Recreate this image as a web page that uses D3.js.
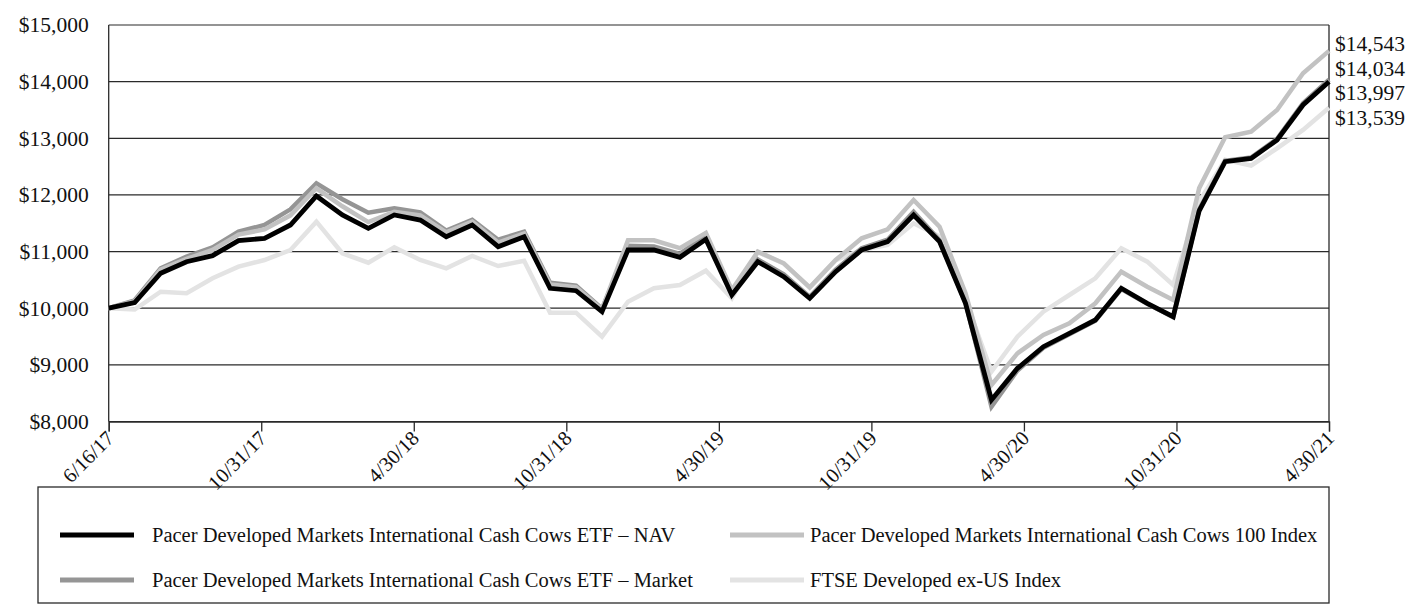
<!DOCTYPE html>
<html>
<head>
<meta charset="utf-8">
<script src="https://cdn.jsdelivr.net/npm/d3@7"></script>
<style>
  html, body { margin: 0; padding: 0; background: #fff; }
  svg { display: block; }
  text { font-family: "Liberation Serif", "DejaVu Serif", serif; fill: #111; }
</style>
</head>
<body>
<svg id="chart" width="1413" height="612"></svg>
<script>
const dates = [
  "6/16/17","6/30/17","7/31/17","8/31/17","9/30/17","10/31/17","11/30/17","12/31/17",
  "1/31/18","2/28/18","3/31/18","4/30/18","5/31/18","6/30/18","7/31/18","8/31/18","9/30/18","10/31/18","11/30/18","12/31/18",
  "1/31/19","2/28/19","3/31/19","4/30/19","5/31/19","6/30/19","7/31/19","8/31/19","9/30/19","10/31/19","11/30/19","12/31/19",
  "1/31/20","2/29/20","3/31/20","4/30/20","5/31/20","6/30/20","7/31/20","8/31/20","9/30/20","10/31/20","11/30/20","12/31/20",
  "1/31/21","2/28/21","3/31/21","4/30/21"
];
const tickLabels = ["6/16/17","10/31/17","4/30/18","10/31/18","4/30/19","10/31/19","4/30/20","10/31/20","4/30/21"];
const yTicks = [8000, 9000, 10000, 11000, 12000, 13000, 14000, 15000];

const navValues = [
  10000,10100,10617,10821,10928,11192,11234,11469,11981,11646,11411,11646,
  11557,11263,11469,11086,11263,10352,10309,9938,11028,11028,10899,11217,
  10233,10822,10557,10175,10645,11028,11175,11646,11175,10087,8380,8939,
  9321,9557,9792,10352,10087,9851,11720,12587,12646,12970,13588,13997
];
const marketValues = [
  10000,10140,10705,10910,11075,11351,11469,11746,12205,11923,11687,11764,
  11690,11370,11560,11210,11350,10450,10400,9990,11100,11090,10960,11290,
  10270,10860,10600,10200,10680,11060,11210,11700,11200,10100,8262,8900,
  9300,9540,9780,10340,10080,9840,11740,12600,12660,12990,13620,14034
];
const indexValues = [
  10000,10120,10680,10870,11030,11300,11390,11640,12117,11800,11520,11700,
  11640,11340,11530,11160,11320,10420,10370,9980,11200,11200,11060,11330,
  10322,10998,10793,10369,10851,11234,11393,11911,11440,10263,8644,9204,
  9527,9733,10087,10645,10380,10145,12120,13017,13117,13500,14148,14543
];
const ftseValues = [
  10000,9976,10292,10263,10528,10733,10851,11028,11528,10970,10804,11075,
  10851,10705,10922,10745,10839,9921,9921,9497,10115,10352,10410,10663,
  10175,10990,10790,10360,10850,11028,11116,11499,11270,10150,8880,9497,
  9938,10233,10528,11058,10822,10410,11880,12620,12517,12823,13147,13539
];
const seriesNames = [
  "Pacer Developed Markets International Cash Cows ETF \u2013 NAV",
  "Pacer Developed Markets International Cash Cows ETF \u2013 Market",
  "Pacer Developed Markets International Cash Cows 100 Index",
  "FTSE Developed ex-US Index"
];
const seriesColors = ["#000000", "#959595", "#c2c2c2", "#e3e3e3"];
const endLabels = ["$14,543", "$14,034", "$13,997", "$13,539"];

const series = [
  { name: seriesNames[0], values: navValues, color: seriesColors[0] },
  { name: seriesNames[1], values: marketValues, color: seriesColors[1] },
  { name: seriesNames[2], values: indexValues, color: seriesColors[2] },
  { name: seriesNames[3], values: ftseValues, color: seriesColors[3] }
];

const svg = d3.select("#chart");
const L = 108.7, R = 1329, T = 25, B = 421.5;

const x = d3.scalePoint().domain(dates).range([L, R]);
const xTick = d3.scalePoint().domain(tickLabels).range([L, R]);
const y = d3.scaleLinear().domain([8000, 15000]).range([B, T]);

// gridlines
svg.append("g")
  .selectAll("line")
  .data(yTicks)
  .join("line")
  .attr("x1", L).attr("x2", R)
  .attr("y1", d => y(d)).attr("y2", d => y(d))
  .attr("stroke", "#2a2a2a").attr("stroke-width", 1.2);

// frame sides
svg.append("line").attr("x1", L).attr("x2", L).attr("y1", T).attr("y2", B)
  .attr("stroke", "#2a2a2a").attr("stroke-width", 1.3);
svg.append("line").attr("x1", R).attr("x2", R).attr("y1", T).attr("y2", B)
  .attr("stroke", "#2a2a2a").attr("stroke-width", 1.3);

// y axis labels
const yAxis = d3.axisLeft(y).tickValues(yTicks).tickSize(0).tickPadding(20)
  .tickFormat(d => "$" + d3.format(",")(d));
const gy = svg.append("g").attr("transform", `translate(${L},0)`).call(yAxis);
gy.select(".domain").remove();
gy.selectAll("text").attr("font-size", 21.5).attr("font-family", "Liberation Serif").attr("fill", "#111");

// x axis
const xAxis = d3.axisBottom(xTick).tickSize(10).tickPadding(0);
const gx = svg.append("g").attr("transform", `translate(0,${B})`).call(xAxis);
gx.select(".domain").attr("stroke", "#2a2a2a").attr("stroke-width", 1.3);
gx.selectAll(".tick line").attr("stroke", "#2a2a2a").attr("stroke-width", 1.3);
gx.selectAll("text")
  .attr("font-size", 20.5).attr("font-family", "Liberation Serif").attr("fill", "#111")
  .attr("text-anchor", "end")
  .attr("y", 0)
  .attr("dy", "0.35em")
  .attr("transform", "translate(1,13) rotate(-45)");

// lines (draw order: FTSE, Market, Index, NAV)
const line = d3.line().x((d, i) => x(dates[i])).y(d => y(d));
const drawOrder = [3, 1, 2, 0];
svg.append("g").selectAll("path")
  .data(drawOrder.map(i => series[i]))
  .join("path")
  .attr("d", s => line(s.values))
  .attr("fill", "none")
  .attr("stroke", s => s.color)
  .attr("stroke-width", s => s.color === "#000000" ? 4.8 : 4.5)
  .attr("stroke-linejoin", "miter");

// end labels
const topLabelY = y(indexValues[indexValues.length - 1]) - 7;
svg.append("g").selectAll("text")
  .data(endLabels)
  .join("text")
  .attr("x", R + 6)
  .attr("y", (d, i) => topLabelY + i * 24.5)
  .attr("dy", "0.35em")
  .attr("font-size", 21.5)
  .text(d => d);

// legend
const lg = svg.append("g");
lg.append("rect").attr("x", 38).attr("y", 487).attr("width", R - 38).attr("height", 116)
  .attr("fill", "none").attr("stroke", "#2a2a2a").attr("stroke-width", 1.3);
const legendPos = [
  { sx: 60, tx: 152, y: 535 },
  { sx: 60, tx: 152, y: 580 },
  { sx: 730, tx: 810, y: 535 },
  { sx: 730, tx: 810, y: 580 }
];
series.forEach((s, i) => {
  const p = legendPos[i];
  lg.append("line").attr("x1", p.sx).attr("x2", p.sx + 74).attr("y1", p.y).attr("y2", p.y)
    .attr("stroke", s.color).attr("stroke-width", 5);
  lg.append("text").attr("x", p.tx).attr("y", p.y).attr("dy", "0.35em")
    .attr("font-size", 20.5).text(s.name);
});
</script>
</body>
</html>
